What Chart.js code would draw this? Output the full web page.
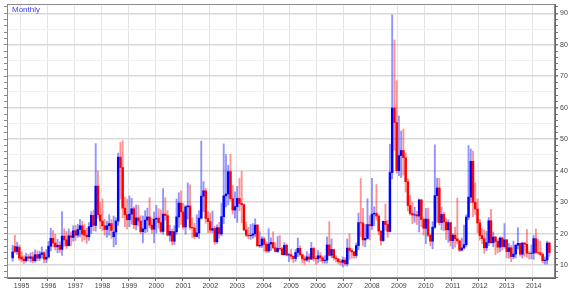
<!DOCTYPE html>
<html>
<head>
<meta charset="utf-8">
<script src="https://cdn.jsdelivr.net/npm/chart.js@4.4.0/dist/chart.umd.min.js"></script>
<style>
  html, body { margin: 0; padding: 0; background: #fff; }
  #wrap { width: 570px; height: 292px; position: relative; }
</style>
</head>
<body>
<div id="wrap"><canvas id="vixChart"></canvas></div>
<script>
// monthly bars, Sep 1994 .. Aug 2014
const title = "Monthly";
const yTickLabels = [10, 20, 30, 40, 50, 60, 70, 80, 90];

const opens = [
  12.3, 15.9, 14.3, 15.6,
  12.6, 11.9, 11.4, 12.6, 12.2, 12.6, 11.4, 13.3, 12.2, 13.4, 13.9, 11.9,
  12.6, 16.0, 18.5, 17.0, 15.8, 16.3, 15.0, 19.2, 18.0, 16.2, 19.3, 18.8,
  20.9, 19.5, 21.3, 22.5, 21.0, 19.5, 19.0, 22.2, 25.8, 22.6, 35.1, 26.0,
  24.0, 22.5, 21.3, 22.5, 23.2, 19.0, 20.5, 24.0, 44.3, 41.0, 28.1, 26.0,
  24.4, 26.2, 27.9, 22.8, 25.0, 24.0, 20.6, 21.5, 24.3, 25.3, 22.7, 21.4,
  24.6, 24.9, 23.5, 20.7, 26.2, 25.7, 19.5, 20.7, 17.6, 20.6, 25.3, 29.7,
  26.9, 22.1, 28.5, 28.8, 22.0, 21.8, 19.1, 20.2, 24.9, 31.9, 33.6, 24.8,
  23.8, 21.1, 21.6, 17.4, 21.9, 19.9, 25.4, 32.0, 32.6, 39.7, 31.1, 27.5,
  28.6, 31.2, 29.6, 29.2, 21.2, 19.5, 19.3, 19.5, 19.9, 22.7, 16.1, 16.3,
  18.3, 16.6, 14.5, 16.7, 17.2, 15.5, 14.3, 15.3, 15.2, 13.3, 16.3, 13.2,
  13.3, 12.8, 12.1, 14.0, 15.3, 13.3, 12.0, 11.6, 12.6, 11.9, 15.3, 12.1,
  12.0, 12.95, 12.3, 11.4, 11.6, 16.4, 13.1, 14.95, 12.3, 11.98, 11.1, 10.9,
  11.6, 10.4, 15.4, 14.6, 14.2, 13.05, 16.2, 23.5, 23.4, 18.0, 18.5, 22.9,
  22.5, 26.2, 26.5, 25.6, 20.8, 17.8, 23.9, 22.9, 20.7, 39.4, 59.9, 55.3,
  40.0, 44.8, 46.4, 44.1, 36.5, 28.9, 26.4, 25.9, 26.0, 25.6, 30.7, 24.5,
  21.7, 24.6, 19.5, 17.6, 22.05, 32.1, 34.5, 23.5, 26.1, 23.7, 21.2, 23.5,
  17.75, 19.5, 18.35, 17.7, 14.75, 15.45, 16.5, 25.25, 31.6, 42.96, 29.96, 27.8,
  23.4, 19.4, 18.4, 15.5, 17.15, 24.1, 17.1, 18.9, 17.5, 15.7, 18.6, 15.9,
  18.0, 14.3, 15.5, 12.7, 13.5, 16.3, 16.9, 13.45, 17.0, 16.6, 13.75, 13.7,
  13.8, 18.4, 14.0, 13.9, 13.4, 11.4, 11.6, 17.0
];
const highs = [
  16.3, 19.5, 17.3, 16.4,
  14.2, 13.0, 13.8, 13.4, 13.9, 14.1, 14.8, 14.5, 14.4, 15.8, 14.3, 14.9,
  17.5, 21.7, 21.0, 19.8, 18.2, 17.4, 27.0, 21.5, 20.7, 21.5, 20.6, 22.5,
  22.6, 23.0, 24.5, 24.0, 23.0, 21.7, 23.5, 27.0, 27.5, 48.6, 39.9, 29.9,
  31.0, 24.6, 24.0, 26.0, 24.5, 25.6, 25.0, 45.6, 49.0, 49.5, 31.6, 31.0,
  32.0, 31.2, 28.5, 29.1, 29.0, 25.7, 25.6, 27.3, 28.1, 31.4, 24.8, 26.9,
  29.0, 27.9, 27.5, 34.3, 31.4, 27.3, 22.6, 21.4, 22.5, 31.0, 33.0, 33.6,
  29.6, 29.0, 36.1, 35.5, 25.0, 23.3, 26.0, 27.3, 49.4, 36.5, 34.4, 26.9,
  26.6, 27.2, 22.3, 22.8, 23.6, 29.6, 48.5, 45.1, 41.7, 45.2, 35.3, 33.3,
  35.0, 37.6, 39.8, 29.4, 23.7, 22.0, 22.9, 23.2, 24.7, 22.9, 20.6, 19.0,
  18.9, 17.3, 21.6, 18.7, 20.6, 17.1, 19.1, 19.4, 15.7, 17.1, 16.7, 13.8,
  15.0, 12.9, 14.9, 18.6, 16.1, 13.4, 13.0, 14.3, 13.6, 17.2, 15.7, 12.9,
  14.6, 14.0, 12.9, 13.0, 19.0, 23.8, 18.3, 15.1, 13.0, 12.0, 11.8, 12.6,
  12.4, 18.3, 20.0, 15.2, 14.4, 17.0, 26.5, 37.5, 28.0, 22.9, 31.1, 25.7,
  37.6, 28.5, 35.6, 26.0, 21.0, 24.0, 29.4, 24.2, 48.4, 89.5, 81.5, 68.6,
  57.4, 52.6, 53.2, 45.6, 37.4, 32.1, 30.0, 28.4, 27.1, 31.0, 30.9, 25.0,
  28.0, 28.1, 19.9, 23.8, 48.2, 37.6, 37.6, 28.4, 26.8, 24.8, 24.4, 23.5,
  20.0, 22.1, 31.3, 18.0, 18.6, 22.7, 26.0, 48.0, 46.9, 46.2, 36.1, 31.0,
  24.5, 21.6, 21.1, 20.7, 25.1, 27.7, 20.5, 19.2, 18.1, 19.0, 18.9, 23.2,
  18.2, 16.8, 16.2, 17.6, 16.6, 21.9, 17.0, 17.3, 17.1, 21.3, 14.4, 16.4,
  19.4, 21.5, 18.2, 17.6, 14.0, 12.6, 17.6, 17.3
];
const lows = [
  11.2, 13.8, 13.4, 11.6,
  11.0, 10.5, 10.9, 11.3, 10.9, 10.8, 10.9, 11.3, 11.4, 12.2, 10.7, 10.8,
  12.2, 14.5, 15.8, 14.8, 13.9, 14.0, 13.1, 16.0, 15.3, 16.0, 16.2, 17.6,
  17.8, 18.8, 19.0, 17.5, 18.0, 16.9, 17.8, 20.0, 20.9, 20.8, 24.9, 21.6,
  21.0, 19.5, 18.8, 19.5, 18.5, 15.8, 16.5, 22.6, 31.0, 25.0, 22.2, 21.5,
  22.2, 23.0, 21.6, 21.2, 22.5, 19.9, 17.1, 20.3, 20.5, 21.9, 20.1, 17.1,
  20.2, 21.7, 20.2, 19.8, 24.2, 19.3, 17.6, 16.4, 16.5, 19.8, 22.0, 22.9,
  21.4, 19.8, 24.6, 21.3, 18.7, 18.4, 18.9, 18.5, 24.6, 27.0, 23.3, 20.3,
  20.2, 20.3, 16.6, 16.9, 18.6, 19.3, 23.2, 28.5, 29.1, 30.4, 26.2, 24.9,
  23.6, 27.3, 23.4, 20.9, 19.0, 18.4, 18.2, 18.5, 18.9, 16.0, 15.6, 15.6,
  14.4, 14.0, 14.0, 14.6, 15.2, 14.2, 14.0, 14.7, 13.3, 13.2, 12.9, 11.1,
  11.9, 10.8, 11.2, 12.7, 12.8, 10.7, 10.2, 11.2, 10.9, 11.8, 11.3, 10.2,
  10.7, 11.1, 10.6, 10.6, 10.6, 12.9, 12.4, 11.6, 10.9, 10.4, 9.9, 9.4,
  9.9, 9.7, 11.8, 12.2, 12.2, 12.3, 14.9, 19.0, 16.1, 15.8, 18.3, 18.0,
  21.3, 22.5, 24.2, 19.6, 16.3, 17.5, 21.1, 18.8, 20.5, 37.4, 46.5, 39.2,
  38.4, 37.8, 38.6, 33.2, 27.2, 25.9, 23.1, 23.6, 22.9, 20.5, 22.2, 19.5,
  16.8, 19.0, 16.1, 15.2, 21.6, 23.6, 22.7, 21.2, 20.9, 18.1, 17.2, 16.0,
  15.2, 15.7, 16.7, 14.3, 14.5, 15.1, 15.9, 24.4, 29.8, 25.4, 26.0, 20.3,
  17.9, 16.8, 13.7, 14.6, 16.2, 17.0, 15.8, 13.3, 13.9, 14.3, 14.8, 15.4,
  12.3, 12.2, 11.05, 12.0, 12.3, 15.1, 12.8, 12.2, 12.8, 12.5, 11.9, 12.0,
  11.8, 13.6, 13.4, 12.9, 10.7, 10.3, 10.3, 12.8
];
const closes = [
  14.2, 14.3, 15.8, 12.2,
  11.9, 11.4, 12.6, 12.2, 12.6, 11.4, 13.3, 12.2, 13.4, 13.9, 11.9, 12.5,
  16.0, 18.5, 17.0, 15.8, 16.3, 15.0, 19.2, 18.0, 16.2, 19.3, 18.8, 20.9,
  19.5, 21.3, 22.5, 19.8, 19.5, 19.0, 22.2, 25.8, 22.6, 35.1, 26.0, 24.0,
  22.5, 21.3, 22.5, 23.2, 21.0, 20.5, 24.0, 44.3, 41.0, 28.1, 26.0, 24.4,
  26.2, 27.9, 22.8, 25.0, 24.0, 20.6, 21.5, 24.3, 25.3, 22.7, 21.4, 24.6,
  24.9, 23.5, 20.7, 26.2, 25.7, 19.5, 20.7, 17.6, 20.6, 25.3, 29.7, 26.9,
  22.1, 28.5, 28.8, 22.0, 21.8, 19.1, 20.2, 24.9, 31.9, 33.6, 24.8, 23.8,
  21.1, 21.6, 17.4, 21.9, 19.9, 25.4, 32.0, 32.6, 39.7, 31.1, 27.5, 28.6,
  31.2, 29.6, 29.2, 21.2, 19.5, 19.3, 19.5, 19.9, 22.7, 16.1, 16.3, 18.3,
  16.6, 14.5, 16.7, 17.2, 15.5, 14.3, 15.3, 15.2, 13.3, 16.3, 13.2, 13.3,
  12.8, 12.1, 14.0, 15.3, 13.3, 12.0, 11.6, 12.6, 11.9, 15.3, 12.1, 12.0,
  12.95, 12.3, 11.4, 11.6, 16.4, 13.1, 14.95, 12.3, 11.98, 11.1, 10.9, 11.6,
  10.4, 15.4, 14.6, 14.2, 13.05, 16.2, 23.5, 23.4, 18.0, 18.5, 22.9, 22.5,
  26.2, 26.5, 25.6, 20.8, 17.8, 23.9, 22.9, 20.7, 39.4, 59.9, 55.3, 40.0,
  44.8, 46.4, 44.1, 36.5, 28.9, 26.4, 25.9, 26.0, 25.6, 30.7, 24.5, 21.7,
  24.6, 19.5, 17.6, 22.05, 32.1, 34.5, 23.5, 26.1, 23.7, 21.2, 23.5, 17.75,
  19.5, 18.35, 17.7, 14.75, 15.45, 16.5, 25.25, 31.6, 42.96, 29.96, 27.8, 23.4,
  19.4, 18.4, 15.5, 17.15, 24.1, 17.1, 18.9, 17.5, 15.7, 18.6, 15.9, 18.0,
  14.3, 15.5, 12.7, 13.5, 16.3, 16.9, 13.45, 17.0, 16.6, 13.75, 13.7, 13.8,
  18.4, 14.0, 13.9, 13.4, 11.4, 11.6, 17.0, 14.0
];

// axis runs Jul 1994 .. Oct 2014, data starts Sep 1994
const axisStart = { year: 1994, month: 7 };
const axisMonths = 244;
const dataOffset = 2;

const labels = [];
for (let i = 0; i < axisMonths; i++) {
  const m = axisStart.month - 1 + i;
  const y = axisStart.year + Math.floor(m / 12);
  const mm = (m % 12) + 1;
  labels.push(y + "-" + (mm < 10 ? "0" + mm : mm));
}

const wicks = labels.map((_, i) => {
  const k = i - dataOffset;
  return k >= 0 && k < closes.length ? [lows[k], highs[k]] : null;
});
const bodies = labels.map((_, i) => {
  const k = i - dataOffset;
  return k >= 0 && k < closes.length ? [opens[k], closes[k]] : null;
});
const isUp = (i) => {
  const k = i - dataOffset;
  return closes[k] >= opens[k];
};

const isJan = (i) => labels[i] && labels[i].endsWith("-01");
const isWhole = (v, n) => Math.abs(v / n - Math.round(v / n)) < 1e-6;

const framePlugin = {
  id: "frame",
  afterDraw(chart) {
    const { ctx, chartArea: a } = chart;
    ctx.save();
    ctx.strokeStyle = "#8a8a8a";
    ctx.lineWidth = 1;
    ctx.strokeRect(Math.round(a.left) + 0.5, Math.round(a.top) + 0.5,
      Math.round(a.right - a.left) - 1, Math.round(a.bottom - a.top) - 1);
    ctx.fillStyle = "#3c3cff";
    ctx.font = "8px 'Liberation Sans', Arial, sans-serif";
    ctx.textBaseline = "alphabetic";
    ctx.fillText(title, a.left + 5, a.top + 8);
    ctx.restore();
  }
};

const ctx = document.getElementById("vixChart");
new Chart(ctx, {
  type: "bar",
  data: {
    labels: labels,
    datasets: [
      {
        label: "body",
        data: bodies,
        order: 0,
        grouped: false,
        barThickness: 1.8,
        backgroundColor: (c) => isUp(c.dataIndex) ? "#0000ff" : "#ff0000",
        borderWidth: 0
      },
      {
        label: "range",
        data: wicks,
        order: 1,
        grouped: false,
        barThickness: 1.2,
        backgroundColor: (c) => isUp(c.dataIndex) ? "rgba(40,40,255,0.5)" : "rgba(255,40,40,0.5)",
        borderWidth: 0
      }
    ]
  },
  options: {
    responsive: true,
    maintainAspectRatio: false,
    animation: false,
    layout: { padding: { top: 4, left: 0, right: 0, bottom: 0 } },
    plugins: { legend: { display: false }, tooltip: { enabled: false } },
    scales: {
      x: {
        offset: true,
        grid: {
          offset: true,
          color: (c) => isJan(c.index) ? "#e4e4e4" : "rgba(0,0,0,0)",
          tickColor: (c) => isJan(c.index) ? "#666" : "rgba(0,0,0,0)",
          tickLength: 3,
          lineWidth: 1
        },
        border: { color: "#666" },
        ticks: {
          autoSkip: false,
          maxRotation: 0,
          minRotation: 0,
          padding: 1,
          color: "#444",
          font: { family: "'Liberation Sans', Arial, sans-serif", size: 7 },
          callback: (v, i) => isJan(i) ? labels[i].slice(0, 4) : ""
        },
        afterFit: (s) => { s.height = 14; s.paddingLeft = 0; s.paddingRight = 0; }
      },
      y: {
        position: "right",
        min: 5.9,
        max: 92.95,
        grid: {
          color: (c) => {
            const v = c.tick ? c.tick.value : 0.5;
            if (isWhole(v, 10)) return "#d9d9d9";
            if (isWhole(v, 5)) return "#f1f1f1";
            return "rgba(0,0,0,0)";
          },
          lineWidth: (c) => (c.tick && isWhole(c.tick.value, 10)) ? 1.5 : 1,
          tickColor: (c) => (c.tick && isWhole(c.tick.value, 2)) ? "#777" : "rgba(0,0,0,0)",
          tickLength: 3
        },
        border: { color: "#666" },
        ticks: {
          stepSize: 1,
          maxTicksLimit: 200,
          includeBounds: false,
          autoSkip: false,
          padding: 2,
          color: "#444",
          font: { family: "'Liberation Sans', Arial, sans-serif", size: 7 },
          callback: (v) => yTickLabels.includes(Math.round(v)) && isWhole(v, 10) ? String(Math.round(v)) : ""
        },
        afterFit: (s) => { s.width = 15; s.paddingTop = 0; s.paddingBottom = 0; }
      },
      yl: {
        position: "left",
        min: 5.9,
        max: 92.95,
        grid: {
          drawOnChartArea: false,
          tickColor: (c) => (c.tick && isWhole(c.tick.value, 2)) ? "#888" : "rgba(0,0,0,0)",
          tickLength: 3
        },
        border: { color: "#888" },
        ticks: {
          stepSize: 1,
          maxTicksLimit: 200,
          includeBounds: false,
          autoSkip: false,
          padding: 0,
          font: { size: 1 },
          callback: () => ""
        },
        afterFit: (s) => { s.width = 7; s.paddingTop = 0; s.paddingBottom = 0; }
      }
    }
  },
  plugins: [framePlugin]
});
</script>
</body>
</html>
